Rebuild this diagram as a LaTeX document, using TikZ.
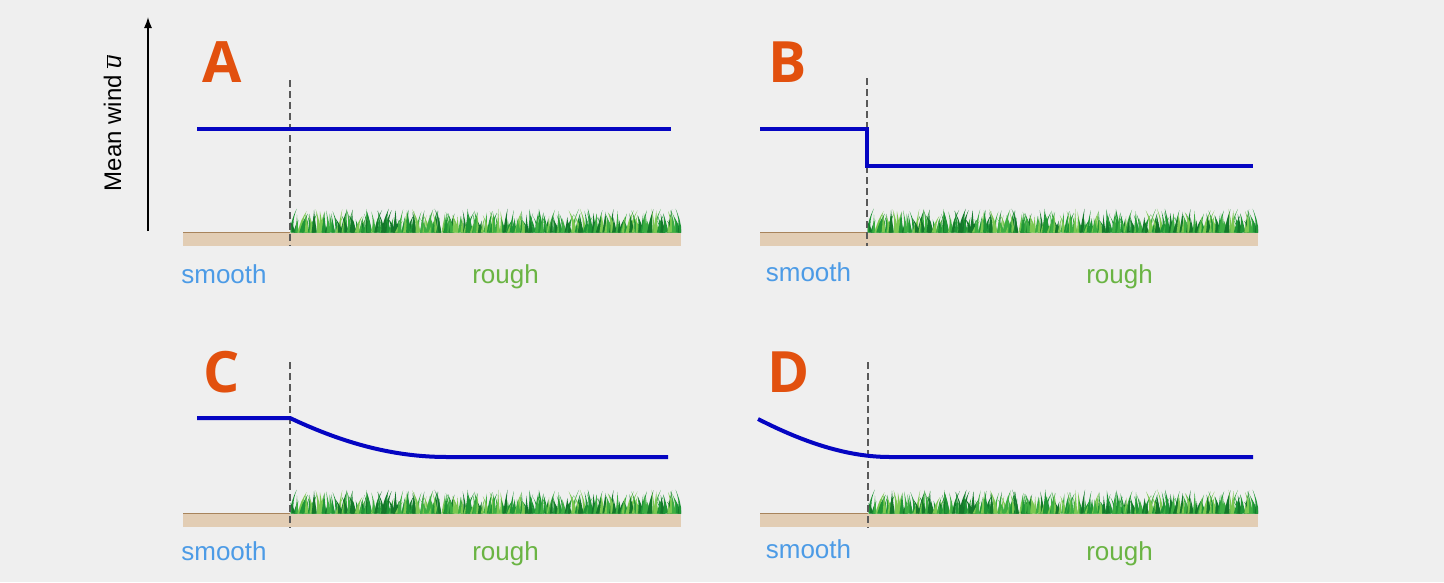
\documentclass[tikz,border=0pt]{standalone}
\usepackage{fontspec}
\usetikzlibrary{arrows.meta}
\setmainfont{Liberation Sans}
\newfontfamily\letterfont{Open Sans}
\definecolor{bg}{HTML}{EFEFEF}
\definecolor{windblue}{HTML}{0505C2}
\definecolor{letterred}{HTML}{E2500E}
\definecolor{soil}{HTML}{E2CDB4}
\definecolor{soiledge}{HTML}{A8845C}
\definecolor{smoothblue}{HTML}{4C9BE6}
\definecolor{roughgreen}{HTML}{6AB443}
\definecolor{grass0}{HTML}{13782A}
\definecolor{grass1}{HTML}{1F9636}
\definecolor{grass2}{HTML}{3DAE42}
\definecolor{grass3}{HTML}{7CC852}
\tikzset{
  wind/.style={draw=windblue,line width=4pt,line join=miter},
  divider/.style={draw=black!65,line width=1.1pt,dash pattern=on 7pt off 4pt},
  panelletter/.style={text=letterred,font=\letterfont\bfseries\fontsize{57}{57}\selectfont,anchor=base,inner sep=0pt},
  smoothlabel/.style={text=smoothblue,font=\fontsize{26}{26}\selectfont,anchor=base,inner sep=0pt},
  roughlabel/.style={text=roughgreen,font=\fontsize{26}{26}\selectfont,anchor=base,inner sep=0pt},
}
\newcommand\grassstrip[3]{%
  \pgfmathsetmacro\gxa{#1}%
  \pgfmathsetmacro\gxb{#2}%
  \pgfmathsetmacro\gy{#3}%
  \pgfmathsetmacro\gstep{(\gxb-\gxa)/249}%
  \begin{scope}
  \clip (\gxa,\gy-30) rectangle (\gxb,\gy+0.5);
  \pgfmathsetseed{1234}
  \foreach \k in {0,...,249}{
    \pgfmathsetmacro\bx{\gxa+\gstep*\k+(rnd-0.5)*3}
    \pgfmathsetmacro\bh{11+13*rnd}
    \pgfmathsetmacro\bl{(rnd-0.5)*13}
    \pgfmathsetmacro\bw{1.5+1.4*rnd}
    \pgfmathtruncatemacro\bc{min(3,4*rnd)}
    \fill[grass\bc] (\bx-\bw,\gy) .. controls (\bx-\bw*0.3+\bl*0.3,\gy-\bh*0.6) .. (\bx+\bl,\gy-\bh) .. controls (\bx+\bw*0.3+\bl*0.3,\gy-\bh*0.6) .. (\bx+\bw,\gy) -- cycle;
  }
  \end{scope}
}
\newcommand\groundstrip[3]{% x0, xdiv, ytop
  \fill[soil] (#1,#3) rectangle (#1+498,#3+13);
  \draw[soiledge,line width=1.2pt] (#1,#3) -- (#2,#3);
  \grassstrip{#2+0.5}{#1+498}{#3}
}
\begin{document}
\begin{tikzpicture}[x=1pt,y=-1pt]
\useasboundingbox (0,0) rectangle (1444,582);
\fill[bg] (0,0) rectangle (1444,582);

% axis
\coordinate (axb) at (148,231);
\coordinate (axt) at (148,17);
\draw[black,line width=1.4pt,-{Latex[length=11pt,width=8pt]}] (axb) -- (axt);
\node[rotate=90,anchor=base,inner sep=0pt,font=\fontsize{24}{24}\selectfont] (axlabel) at (121,123) {Mean wind $\overline{\mbox{\itshape u}}$};

% ---------- Panel A ----------
\groundstrip{183}{290}{232.5}
\draw[divider] (290,80) -- (290,246);
\draw[wind] (197,129) -- (671,129);
\node[panelletter] (A) at (222.5,82) {A};
\node[smoothlabel] (sA) at (224,283) {smooth};
\node[roughlabel] (rA) at (505.5,283) {rough};

% ---------- Panel B ----------
\groundstrip{760}{867}{232.5}
\draw[divider] (867,78) -- (867,246);
\draw[wind] (760,129) -- (867,129) -- (867,166) -- (1253,166);
\node[panelletter] (B) at (787.5,82) {B};
\node[smoothlabel] (sB) at (808.5,281) {smooth};
\node[roughlabel] (rB) at (1119.5,283) {rough};

% ---------- Panel C ----------
\groundstrip{183}{290}{513.5}
\draw[divider] (290,362) -- (290,528);
\draw[wind] (197,418) -- (290,418) .. controls (345,444) and (395,457) .. (447,457) -- (668,457);
\node[panelletter] (C) at (221.5,392) {C};
\node[smoothlabel] (sC) at (224,560) {smooth};
\node[roughlabel] (rC) at (505.5,560) {rough};

% ---------- Panel D ----------
\groundstrip{760}{868}{513.5}
\draw[divider] (868,362) -- (868,528);
\draw[wind] (758,419) .. controls (805,443) and (848,457) .. (890,457) -- (1253,457);
\node[panelletter] (D) at (789,392) {D};
\node[smoothlabel] (sD) at (808.5,558) {smooth};
\node[roughlabel] (rD) at (1119.5,560) {rough};
\end{tikzpicture}
\end{document}
